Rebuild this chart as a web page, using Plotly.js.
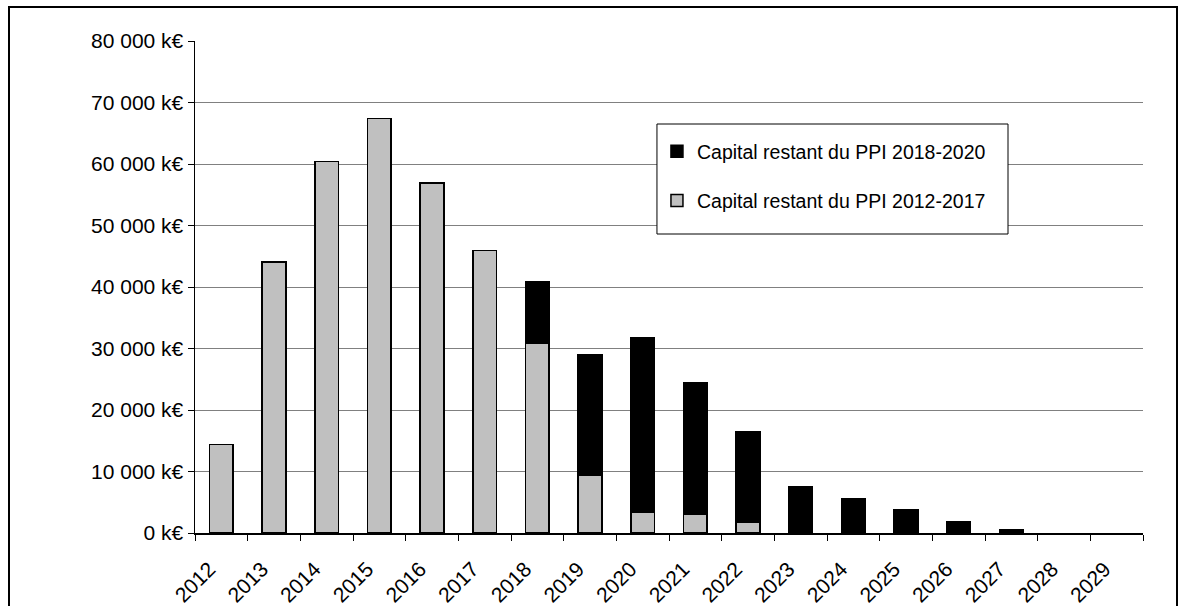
<!DOCTYPE html>
<html>
<head>
<meta charset="utf-8">
<script src="https://cdn.plot.ly/plotly-3.0.1.min.js"></script>
<style>
html,body{margin:0;padding:0;background:#fff;overflow:hidden;}
#chart{position:absolute;left:0;top:0;width:1184px;height:606px;}
#frame{position:absolute;left:8px;top:6px;width:1166px;height:700px;border:2px solid #000;pointer-events:none;}
</style>
</head>
<body>
<div id="chart"></div>
<div id="frame"></div>
<script>
const years = ["2012","2013","2014","2015","2016","2017","2018","2019","2020","2021","2022","2023","2024","2025","2026","2027","2028","2029"];
const ppi20122017 = [14400,44100,60400,67400,56900,45900,30800,9400,3400,3100,1800,null,null,null,null,null,null,null];
const ppi20182020 = [null,null,null,null,null,null,10100,19600,28400,21400,14700,7600,5600,3850,1800,600,null,null];
const seriesNames = ["Capital restant du PPI 2012-2017","Capital restant du PPI 2018-2020"];
const yTickVals = [0,10000,20000,30000,40000,50000,60000,70000,80000];
const yTickText = ["0 k€","10 000 k€","20 000 k€","30 000 k€","40 000 k€","50 000 k€","60 000 k€","70 000 k€","80 000 k€"];

const font = {family:"Liberation Sans, Arial, sans-serif", size:21, color:"#000"};
const legendFont = {family:"Liberation Sans, Arial, sans-serif", size:19.5, color:"#000"};

const traces = [
  {type:"bar", x:years, y:ppi20122017, name:seriesNames[0], legendgroup:"a", legendrank:2000,
   marker:{color:"#c0c0c0", line:{color:"#000", width:1.5}}},
  {type:"bar", x:years, y:ppi20182020, name:seriesNames[1], legendgroup:"b", legendrank:1000,
   marker:{color:"#000000", line:{color:"#000", width:1.5}}}
];

const layout = {
  width:1184, height:606,
  margin:{l:195, r:41, t:41, b:73},
  paper_bgcolor:"rgba(0,0,0,0)", plot_bgcolor:"#fff",
  font:font,
  barmode:"stack", bargap:0.55,
  showlegend:true,
  legend:{x:0.4873, y:0.815, xanchor:"left", yanchor:"top",
    borderwidth:0, bgcolor:"rgba(0,0,0,0)",
    traceorder:"grouped", tracegroupgap:21, font:legendFont},
  shapes:[{type:"rect", xref:"paper", yref:"paper", layer:"above",
    x0:0.4873, x1:0.8576, y0:0.6077, y1:0.8313,
    line:{color:"#000", width:1}, fillcolor:"#fff"}],
  xaxis:{type:"category", tickangle:-45, tickson:"boundaries", ticks:"outside", ticklen:6,
    tickcolor:"#000", showline:true, linecolor:"#000", linewidth:1.5, showgrid:false,
    ticklabelshift:-12, ticklabelstandoff:14,
    tickfont:font, fixedrange:true},
  yaxis:{range:[0,80000], tickvals:yTickVals, ticktext:yTickText, ticks:"outside", ticklen:6,
    tickcolor:"#000", showline:true, linecolor:"#000", linewidth:1.5, showgrid:true,
    gridcolor:"#808080", gridwidth:1, zeroline:false, tickfont:font, fixedrange:true}
};

Plotly.newPlot("chart", traces, layout, {displayModeBar:false, staticPlot:true});
</script>
</body>
</html>
